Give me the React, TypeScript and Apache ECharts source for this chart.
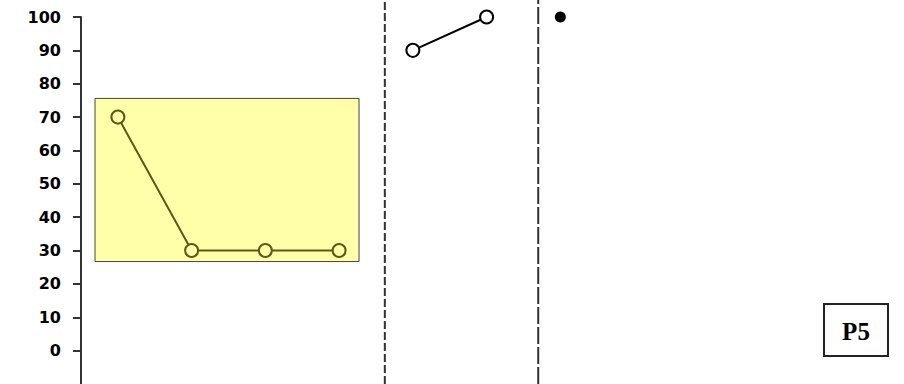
import React, { useEffect, useRef } from "react";
import * as echarts from "echarts";

// Data
const seriesA: [number, number][] = [[0, 70], [1, 30], [2, 30], [3, 30]];
const seriesB: [number, number][] = [[4, 90], [5, 100]];
const seriesC: [number, number][] = [[6, 100]];
const dividers: number[] = [3.62, 5.7];
const highlightBox = { x0: -0.31, x1: 3.27, yTop: 75.6, yBottom: 26.7 };
const yTicks: number[] = [0, 10, 20, 30, 40, 50, 60, 70, 80, 90, 100];
const boxLabel = "P5";

const OLIVE = "#5a5a14";
const YELLOW = "#ffffaa";
const DASHES: number[][] = [[8, 3], [17, 3]];

export default function App() {
  const ref = useRef<HTMLDivElement>(null);
  useEffect(() => {
    if (!ref.current) return;
    const chart = echarts.init(ref.current, undefined, { renderer: "svg" });
    const xMin = -0.5;
    const xMax = 10.66;
    const option: any = {
      animation: false,
      backgroundColor: "#ffffff",
      grid: [
        { left: 81, right: 0, top: 17, bottom: -2, containLabel: false },
        { left: 81, right: 0, top: 0, bottom: 0, containLabel: false },
      ],
      xAxis: [
        { type: "value", gridIndex: 0, min: xMin, max: xMax, show: false },
        { type: "value", gridIndex: 1, min: xMin, max: xMax, show: false },
      ],
      yAxis: [
        {
          type: "value",
          gridIndex: 0,
          min: -10,
          max: 100,
          interval: 10,
          splitLine: { show: false },
          axisLine: { show: true, onZero: false, lineStyle: { color: "#333", width: 2 } },
          axisTick: {
            show: true,
            length: 8,
            lineStyle: { color: "#333", width: 2 },
            customValues: yTicks,
          },
          axisLabel: {
            margin: 20,
            color: "#000",
            fontFamily: "DejaVu Sans",
            fontWeight: "bold",
            fontSize: 16,
            customValues: yTicks,
            formatter: (v: number) => (yTicks.indexOf(v) >= 0 ? String(v) : ""),
          },
          z: 5,
        },
        { type: "value", gridIndex: 1, min: 0, max: 1, show: false },
      ],
      series: [
        {
          type: "line",
          xAxisIndex: 0,
          yAxisIndex: 0,
          data: seriesA,
          symbol: "circle",
          symbolSize: 13,
          itemStyle: { color: YELLOW, borderColor: OLIVE, borderWidth: 2 },
          lineStyle: { color: OLIVE, width: 2 },
          z: 3,
          markArea: {
            silent: true,
            itemStyle: { color: YELLOW, borderColor: "#444", borderWidth: 1 },
            data: [
              [
                { xAxis: highlightBox.x0, yAxis: highlightBox.yTop },
                { xAxis: highlightBox.x1, yAxis: highlightBox.yBottom },
              ],
            ],
          },
        },
        {
          type: "line",
          xAxisIndex: 0,
          yAxisIndex: 0,
          data: seriesB,
          symbol: "circle",
          symbolSize: 13,
          itemStyle: { color: "#fff", borderColor: "#000", borderWidth: 2 },
          lineStyle: { color: "#000", width: 2 },
          z: 3,
        },
        {
          type: "scatter",
          xAxisIndex: 0,
          yAxisIndex: 0,
          data: seriesC,
          symbol: "circle",
          symbolSize: 11,
          itemStyle: { color: "#000", opacity: 1 },
          z: 3,
        },
        ...dividers.map((d, i) => ({
          type: "line",
          xAxisIndex: 1,
          yAxisIndex: 1,
          data: [
            [d, 0],
            [d, 1],
          ],
          symbol: "none",
          lineStyle: { color: "#333", width: 2, type: DASHES[i] },
          z: 2,
        })),
      ],
      graphic: [
        {
          type: "group",
          left: 823,
          top: 303,
          children: [
            {
              type: "rect",
              shape: { x: 0, y: 0, width: 64, height: 52 },
              style: { fill: "#fff", stroke: "#222", lineWidth: 2 },
            },
            {
              type: "text",
              x: 32,
              y: 27,
              style: {
                text: boxLabel,
                fontFamily: "Liberation Serif",
                fontWeight: "bold",
                fontSize: 25,
                fill: "#000",
                align: "center",
                verticalAlign: "middle",
              },
            },
          ],
        },
      ],
    };
    chart.setOption(option);
    return () => chart.dispose();
  }, []);
  return (
    <div
      ref={ref}
      style={{ position: "fixed", left: 0, top: 0, width: 904, height: 384 }}
    />
  );
}
